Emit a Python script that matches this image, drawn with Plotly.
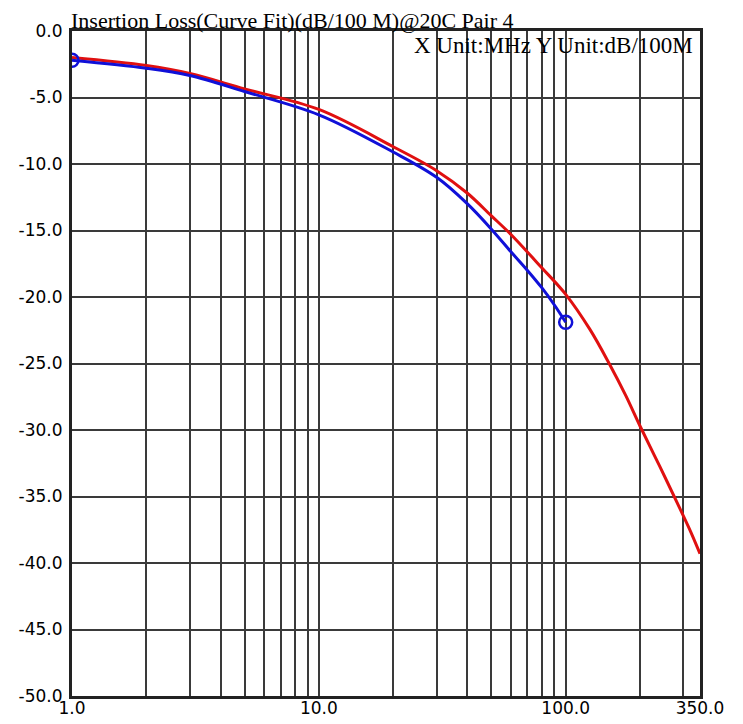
import plotly.graph_objects as go

# Limit curve (red)
red_freq = [1, 2, 3, 5, 10, 20, 30, 40, 50, 60, 80, 100, 125, 150, 175, 200, 240, 290, 320, 350]
red_loss = [-2.0, -2.6, -3.2, -4.35, -5.9, -8.7, -10.5, -12.2, -13.9, -15.3, -17.8,
            -19.8, -22.4, -25.0, -27.4, -29.7, -32.7, -35.9, -37.6, -39.3]

# Measured curve fit (blue)
blue_freq = [1, 2, 3, 5, 10, 20, 30, 40, 50, 60, 70, 80, 90, 100]
blue_loss = [-2.2, -2.8, -3.35, -4.55, -6.3, -9.1, -11.0, -13.0, -14.9, -16.6, -18.0,
             -19.3, -20.6, -21.9]

# Endpoint markers of the blue curve
marker_freq = [blue_freq[0], blue_freq[-1]]
marker_loss = [blue_loss[0], blue_loss[-1]]

x_ticks = [1, 10, 100, 350]
x_tick_text = ["1.0", "10.0", "100.0", "350.0"]
x_minor = [2, 3, 4, 5, 6, 7, 8, 9, 20, 30, 40, 50, 60, 70, 80, 90, 200, 300]
y_ticks = [0, -5, -10, -15, -20, -25, -30, -35, -40, -45, -50]

title_text = "Insertion Loss(Curve Fit)(dB/100 M)@20C Pair 4"
unit_text = "X Unit:MHz Y Unit:dB/100M"

RED = "#e01010"
BLUE = "#1010d8"

fig = go.Figure()
fig.add_trace(go.Scatter(x=red_freq, y=red_loss, mode="lines",
                         line=dict(color=RED, width=3, shape="spline", smoothing=1.0),
                         showlegend=False, hoverinfo="skip"))
fig.add_trace(go.Scatter(x=blue_freq, y=blue_loss, mode="lines",
                         line=dict(color=BLUE, width=3, shape="spline", smoothing=1.0),
                         showlegend=False, hoverinfo="skip"))
fig.add_trace(go.Scatter(x=marker_freq, y=marker_loss, mode="markers",
                         marker=dict(symbol="circle-open", size=13, color=BLUE,
                                     line=dict(color=BLUE, width=2.5)),
                         showlegend=False, hoverinfo="skip"))

# page body has an 8px default margin, so the figure is sized/margined to compensate
fig.update_layout(
    width=735, height=716,
    margin=dict(l=64, r=43, t=23, b=28),
    paper_bgcolor="white", plot_bgcolor="white",
    font=dict(family="DejaVu Sans", size=17, color="black"),
)
fig.update_xaxes(
    type="log", range=[0, 2.5441], tickmode="array",
    tickvals=x_ticks, ticktext=x_tick_text,
    showgrid=True, gridcolor="#3a3a3a", gridwidth=1.5,
    minor=dict(tickmode="array", tickvals=x_minor, showgrid=True,
               gridcolor="#3a3a3a", gridwidth=1.5, ticks=""),
    showline=True, linecolor="#222222", linewidth=3, mirror=True,
    ticks="", zeroline=False, ticklabelstandoff=-5, automargin=False,
    tickfont=dict(family="DejaVu Sans", size=17, color="black"),
)
fig.update_yaxes(
    range=[-50, 0], tickmode="array", tickvals=y_ticks,
    ticktext=[f"{v:.1f}" for v in y_ticks],
    showgrid=True, gridcolor="#3a3a3a", gridwidth=1.5,
    showline=True, linecolor="#222222", linewidth=3, mirror=True,
    ticks="", zeroline=False, ticklabelstandoff=3, automargin=False,
    tickfont=dict(family="DejaVu Sans", size=17, color="black"),
)
fig.add_annotation(text=title_text, xref="paper", yref="paper", x=0, y=1,
                   xanchor="left", yanchor="bottom", yshift=-3, xshift=-2,
                   borderpad=0,
                   showarrow=False,
                   font=dict(family="Liberation Serif", size=22, color="black"))
fig.add_annotation(text=unit_text, xref="paper", yref="paper", x=1, y=1,
                   xanchor="right", yanchor="top", xshift=-5, yshift=0,
                   showarrow=False,
                   font=dict(family="Liberation Serif", size=23, color="black"))

fig.write_html("out.html")
